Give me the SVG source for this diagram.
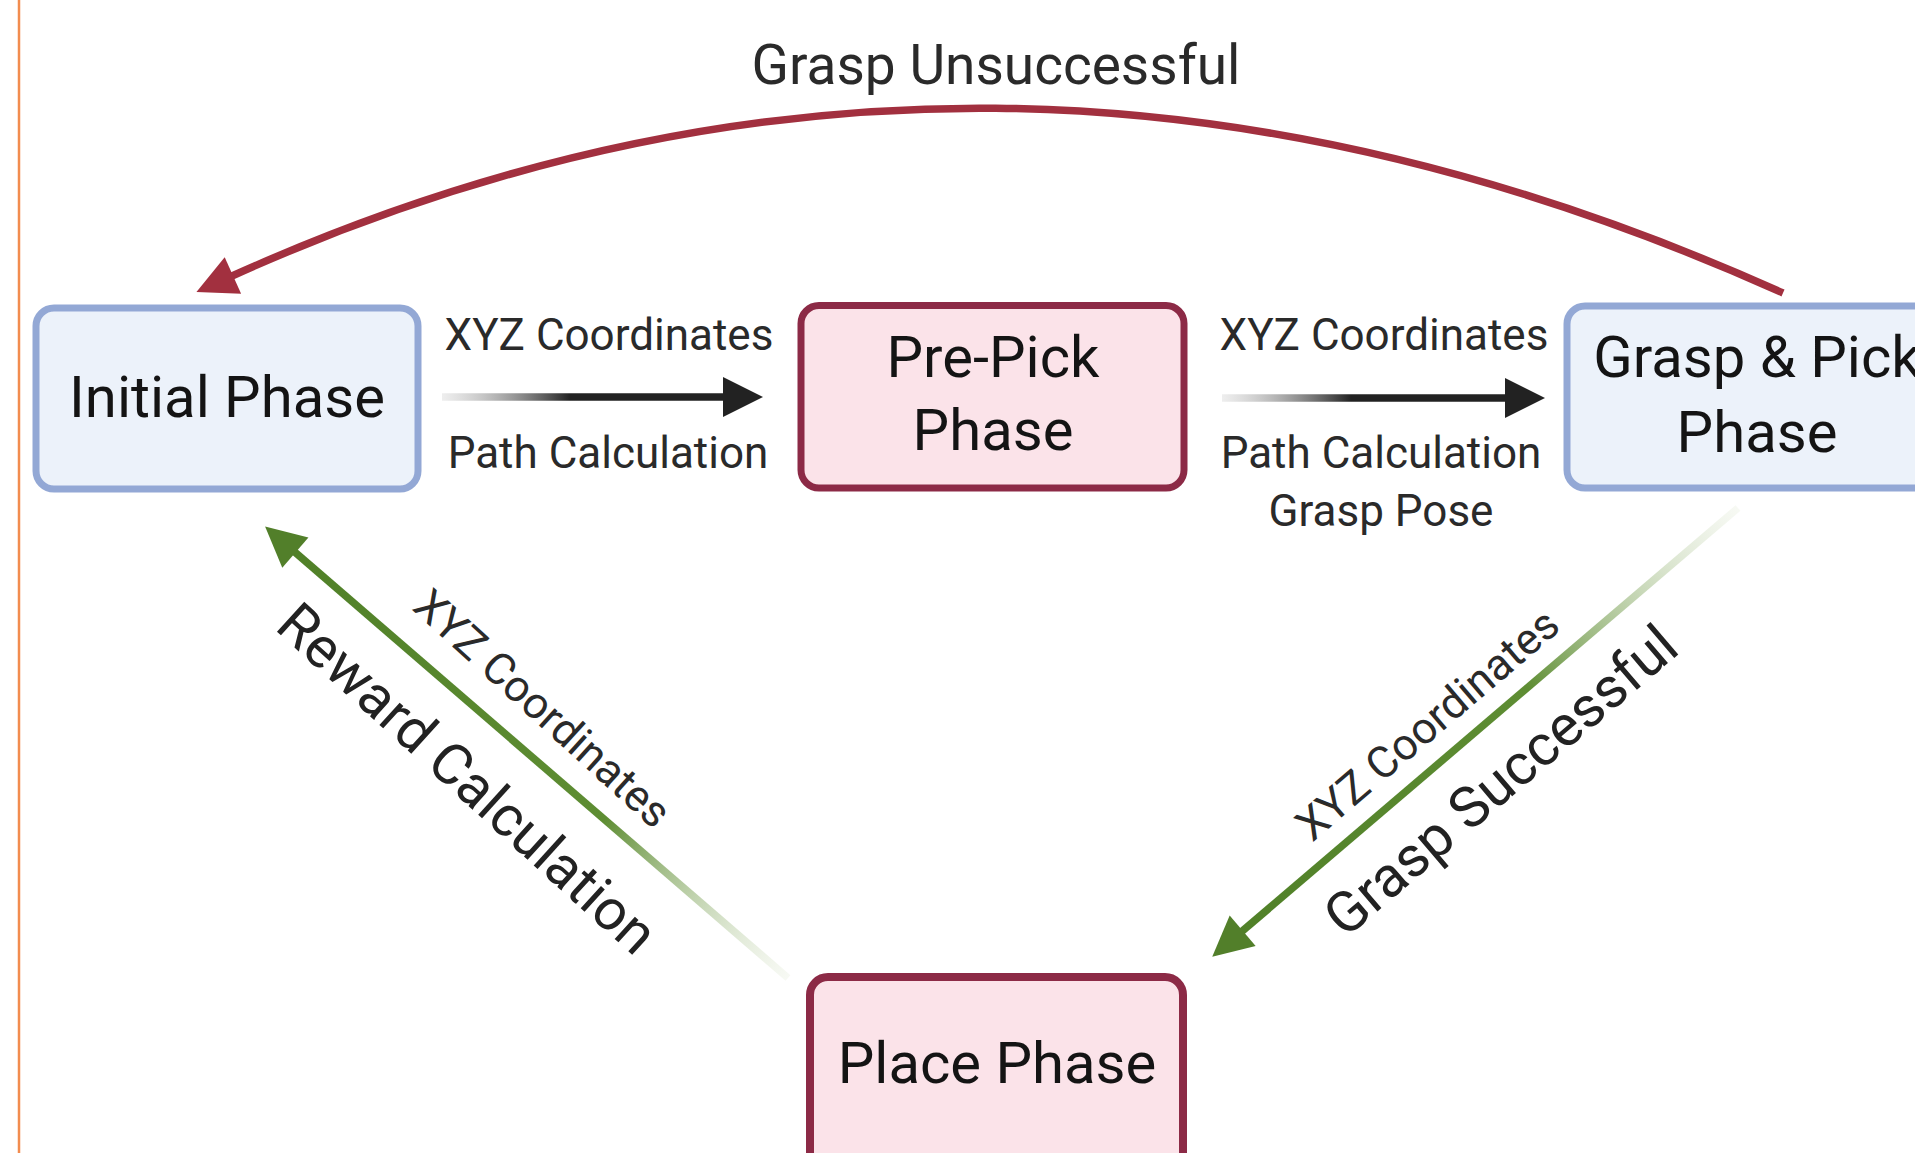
<svg xmlns="http://www.w3.org/2000/svg" width="1915" height="1153" viewBox="0 0 1915 1153">
<style>
  .node-blue { fill:#ECF2FA; stroke:#93A8D5; stroke-width:7; }
  .node-pink { fill:#FBE3E9; stroke:#8C2A46; stroke-width:7; }
  .ntxt { font-family:Roboto,"Liberation Sans",sans-serif; font-size:58px; fill:#141414; text-anchor:middle; }
  .lbl { font-family:Roboto,"Liberation Sans",sans-serif; font-size:44px; fill:#2a2a2a; text-anchor:middle; }
  .lbl-big { font-family:Roboto,"Liberation Sans",sans-serif; font-size:57px; fill:#222; text-anchor:middle; }
  .conn { fill:none; stroke-width:7.5; }
</style>
<defs>
  <linearGradient id="gBlack1" gradientUnits="userSpaceOnUse" x1="442" y1="0" x2="763" y2="0">
    <stop offset="0" stop-color="#cfcfcf" stop-opacity="0.35"/>
    <stop offset="0.4" stop-color="#222"/>
    <stop offset="1" stop-color="#222"/>
  </linearGradient>
  <linearGradient id="gBlack2" gradientUnits="userSpaceOnUse" x1="1222" y1="0" x2="1545" y2="0">
    <stop offset="0" stop-color="#cfcfcf" stop-opacity="0.35"/>
    <stop offset="0.4" stop-color="#222"/>
    <stop offset="1" stop-color="#222"/>
  </linearGradient>
  <linearGradient id="gGreenL" gradientUnits="userSpaceOnUse" x1="788" y1="978" x2="265" y2="525">
    <stop offset="0" stop-color="#dfe8d2" stop-opacity="0.25"/>
    <stop offset="0.35" stop-color="#5E8D33"/>
    <stop offset="1" stop-color="#4F7F27"/>
  </linearGradient>
  <linearGradient id="gGreenR" gradientUnits="userSpaceOnUse" x1="1738" y1="508" x2="1212" y2="958">
    <stop offset="0" stop-color="#dfe8d2" stop-opacity="0.25"/>
    <stop offset="0.4" stop-color="#5E8D33"/>
    <stop offset="1" stop-color="#4F7F27"/>
  </linearGradient>
  <marker id="headBlack" markerUnits="userSpaceOnUse" orient="auto" overflow="visible" refX="1" refY="0" markerWidth="40" markerHeight="40">
    <path d="M0,-20 L40,0 L0,20 z" fill="#222"/>
  </marker>
  <marker id="headGreen" markerUnits="userSpaceOnUse" orient="auto" overflow="visible" refX="1" refY="0" markerWidth="40" markerHeight="40">
    <path d="M0,-20 L40,0 L0,20 z" fill="#527F2A"/>
  </marker>
  <marker id="headRed" markerUnits="userSpaceOnUse" orient="auto" overflow="visible" refX="1" refY="0" markerWidth="40" markerHeight="40">
    <path d="M0,-20 L40,0 L0,20 z" fill="#A2303F"/>
  </marker>
</defs>
<rect x="0" y="0" width="1915" height="1153" fill="#ffffff"/>
<line x1="19" y1="0" x2="19" y2="1153" stroke="#F28C4F" stroke-width="2.5"/>

<g id="connectors">
  <path class="conn" d="M1783,293 C1245,51 738,48 232,276" stroke="#A2303F" stroke-width="8" marker-end="url(#headRed)"/>
  <path class="conn" d="M442,397 L724,397" stroke="url(#gBlack1)" marker-end="url(#headBlack)"/>
  <path class="conn" d="M1222,398 L1506,398" stroke="url(#gBlack2)" marker-end="url(#headBlack)"/>
  <path class="conn" d="M788,978 L294.6,551.9" stroke="url(#gGreenL)" marker-end="url(#headGreen)"/>
  <path class="conn" d="M1738,508 L1241.9,931.4" stroke="url(#gGreenR)" marker-end="url(#headGreen)"/>
</g>

<g id="labels">
  <text class="lbl" x="996" y="84" style="font-size:55px">Grasp Unsuccessful</text>
  <text class="lbl" x="609" y="350">XYZ Coordinates</text>
  <text class="lbl" x="608" y="468">Path Calculation</text>
  <text class="lbl" x="1384" y="350">XYZ Coordinates</text>
  <text class="lbl" x="1381" y="468">Path Calculation</text>
  <text class="lbl" x="1381" y="526">Grasp Pose</text>
  <text class="lbl" transform="translate(543,708) rotate(42.3)" x="0" y="15.6">XYZ Coordinates</text>
  <text class="lbl-big" transform="translate(468,778) rotate(42.3)" x="0" y="20.3">Reward Calculation</text>
  <text class="lbl" transform="translate(1427,724) rotate(-40.5)" x="0" y="15.6">XYZ Coordinates</text>
  <text class="lbl-big" transform="translate(1500,780) rotate(-40.5)" x="0" y="20.3">Grasp Successful</text>
</g>

<g id="node-initial">
  <rect class="node-blue" x="36" y="308" width="382" height="181" rx="18"/>
  <text class="ntxt" x="227" y="417">Initial Phase</text>
</g>
<g id="node-prepick">
  <rect class="node-pink" x="801" y="305.5" width="383" height="182.5" rx="18"/>
  <text class="ntxt" x="993" y="377">Pre-Pick</text>
  <text class="ntxt" x="993" y="450">Phase</text>
</g>
<g id="node-grasp">
  <rect class="node-blue" x="1567" y="306" width="400" height="182" rx="18"/>
  <text class="ntxt" x="1757" y="377">Grasp &amp; Pick</text>
  <text class="ntxt" x="1757" y="452">Phase</text>
</g>
<g id="node-place">
  <rect class="node-pink" x="810" y="977" width="373" height="200" rx="18" style="stroke-width:8"/>
  <text class="ntxt" x="997" y="1083">Place Phase</text>
</g>
</svg>
